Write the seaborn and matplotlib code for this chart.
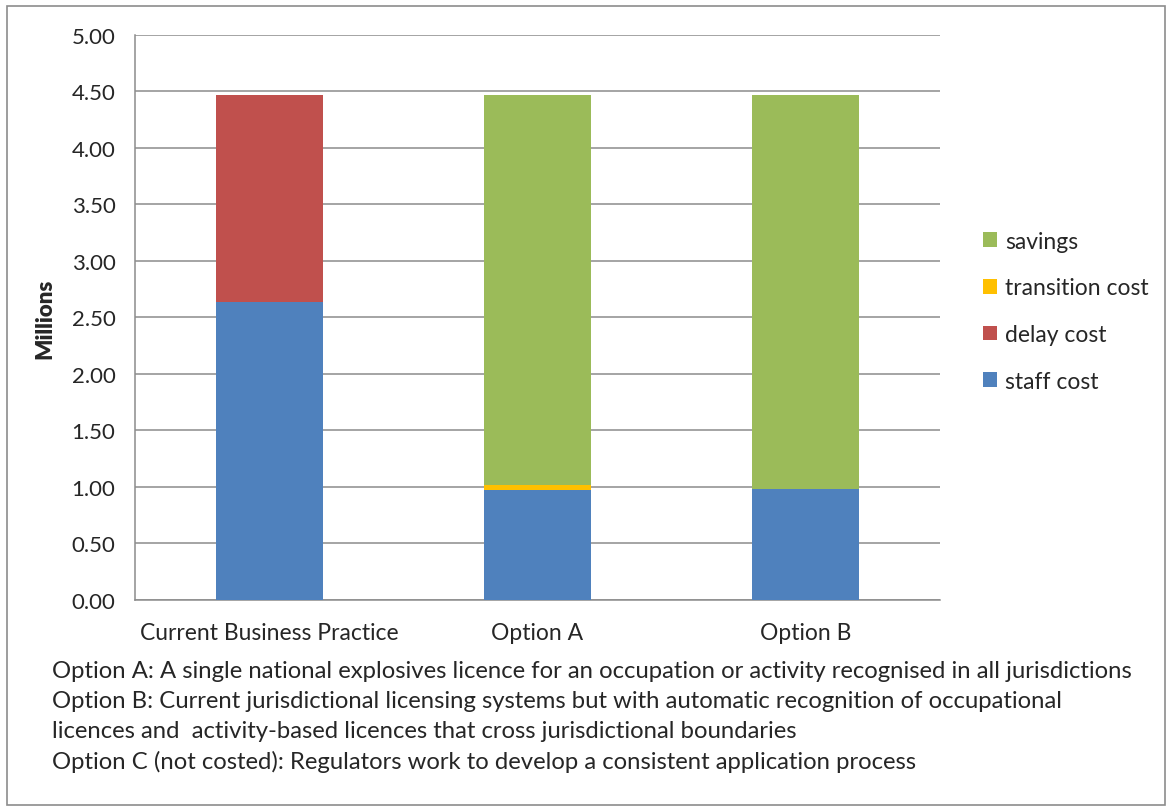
import numpy as np
import pandas as pd
import matplotlib.pyplot as plt
from matplotlib.patches import Patch, Rectangle
import seaborn as sns

# values in millions
scenarios = ["Current Business Practice", "Option A", "Option B"]
staff_cost = [2.64, 0.97, 0.98]
delay_cost = [1.83, 0.00, 0.00]
transition_cost = [0.00, 0.05, 0.00]
savings = [0.00, 3.45, 3.49]

series_names = ["staff cost", "delay cost", "transition cost", "savings"]
series_colors = ["#4F81BD", "#C0504D", "#FFC000", "#9BBB59"]

notes = [
    "Option A: A single national explosives licence for an occupation or activity recognised in all jurisdictions",
    "Option B: Current jurisdictional licensing systems but with automatic recognition of occupational",
    "licences and  activity-based licences that cross jurisdictional boundaries",
    "Option C (not costed): Regulators work to develop a consistent application process",
]

df = pd.DataFrame({
    "scenario": scenarios,
    "staff cost": staff_cost,
    "delay cost": delay_cost,
    "transition cost": transition_cost,
    "savings": savings,
})
# cumulative tops so each layer can be drawn behind the one below it
cum = df[series_names].cumsum(axis=1)
cum["scenario"] = df["scenario"]

sns.set_style("white")
plt.rcParams["font.family"] = ["Lato", "DejaVu Sans"]
grid_c = "#8C8C8C"

fig = plt.figure(figsize=(11.71, 8.12), dpi=100)
ax = fig.add_axes([0.1153, 0.2599, 0.6874, 0.6958])

for name, color in reversed(list(zip(series_names, series_colors))):
    sns.barplot(data=cum, x="scenario", y=name, order=scenarios, color=color,
                width=0.4, saturation=1, linewidth=0, ax=ax, zorder=3)

ax.set_xlim(-0.5, 2.5)
ax.set_ylim(0, 5)
ax.set_yticks(np.arange(0, 5.01, 0.5))
ax.set_yticklabels([f"{v:.2f}" for v in np.arange(0, 5.01, 0.5)], fontsize=16)
ax.yaxis.grid(True, color=grid_c, linewidth=1.1, zorder=0)
ax.set_axisbelow(True)

ax.set_xticks(range(len(scenarios)))
ax.set_xticklabels(scenarios, fontsize=16.5)
ax.tick_params(axis="x", length=0, pad=16)
ax.set_xticks([-0.5, 0.5, 1.5, 2.5], minor=True)
ax.tick_params(axis="x", which="minor", length=6, color=grid_c, width=1.1, direction="out")
ax.tick_params(axis="y", length=6, color=grid_c, width=1.1, direction="out", pad=8)

ax.set_xlabel("")
ax.set_ylabel("Millions", fontsize=16, fontweight="heavy", labelpad=12)

for side in ["top", "right"]:
    ax.spines[side].set_visible(False)
for side in ["left", "bottom"]:
    ax.spines[side].set_color(grid_c)
    ax.spines[side].set_linewidth(1.1)

handles = [Patch(facecolor=c, edgecolor="none") for c in reversed(series_colors)]
labels = list(reversed(series_names))
fig.legend(handles, labels, loc="upper left", bbox_to_anchor=(0.822, 0.74),
           frameon=False, fontsize=16.5, handlelength=0.6, handleheight=0.6,
           handletextpad=0.35, labelspacing=1.12)

for i, line in enumerate(notes):
    fig.text(0.0445, 1 - (672 + 30 * i) / 812, line, fontsize=17.2, va="center", ha="left")

fig.patches.append(Rectangle((0.006, 0.008), 0.989, 0.983, transform=fig.transFigure,
                             fill=False, edgecolor="#8C8C8C", linewidth=1.2))

fig.savefig("out.png", dpi=100)
